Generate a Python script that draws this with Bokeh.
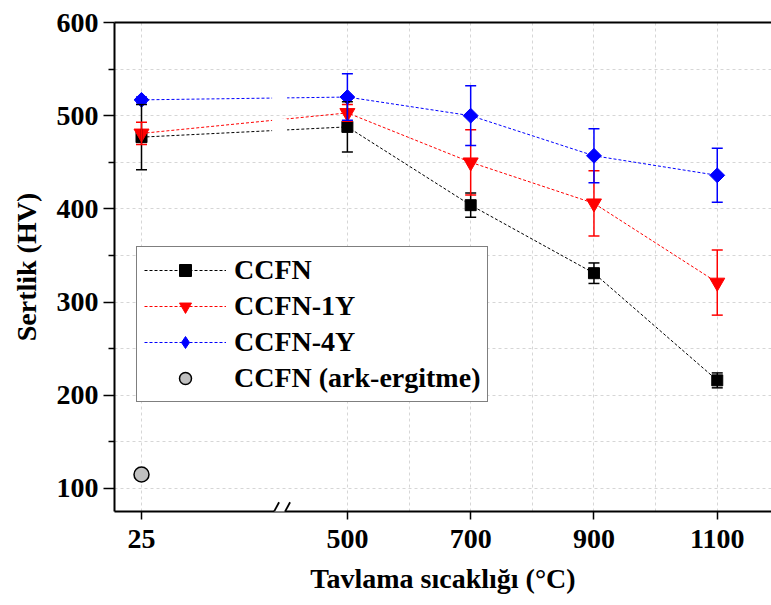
import math
from bokeh.plotting import figure
from bokeh.models import (ColumnDataSource, Whisker, TeeHead, FixedTicker, Legend,
                          LegendItem, Label, Range1d, LinearAxis, Arrow, BoxAnnotation)
from bokeh.embed import file_html
from bokeh.resources import INLINE

# ---- data ----
temps = [25, 500, 700, 900, 1100]
ccfn = [477, 488, 404, 331, 216]
ccfn_err = [35, 27, 13, 11, 8]
ccfn_1y = [481, 503, 450, 406, 321]
ccfn_1y_err = [12, 9, 35, 35, 35]
ccfn_4y = [517, 520, 500, 457, 436]
ccfn_4y_err = [3, 25, 32, 29, 29]
arc_temp = [25]
arc_val = [115]
series_names = ["CCFN", "CCFN-1Y", "CCFN-4Y", "CCFN (ark-ergitme)"]
tick_labels = ["25", "500", "700", "900", "1100"]

# ---- broken x-axis layout: 25 °C is drawn at virtual position 166 ----
BREAK_MAP = {25: 166}
BREAK_AT = 390
def xpos(t):
    return BREAK_MAP.get(t, t)

FONT = "Liberation Serif"
X0, X1 = 122.2, 1188
Y0, Y1 = 75.3, 600
W, H = 771, 605
BL, BT, BB = 114, 22, 94
PPX = (W - BL) / (X1 - X0)
PPY = (H - BT - BB) / (Y1 - Y0)

p = figure(width=W, height=H, output_backend="svg", toolbar_location=None,
           x_range=Range1d(X0, X1), y_range=Range1d(Y0, Y1),
           min_border_left=BL, min_border_right=0, min_border_top=BT,
           min_border_bottom=BB)
p.outline_line_color = None
p.background_fill_color = "white"
p.border_fill_color = "white"

xa, ya = p.below[0], p.left[0]
xs = [xpos(t) for t in temps]

xa.ticker = FixedTicker(ticks=xs, minor_ticks=[600, 800, 1000, 1200])
ya.ticker = FixedTicker(ticks=[100, 200, 300, 400, 500, 600],
                        minor_ticks=[50, 150, 250, 350, 450, 550])
xa.major_label_overrides = {xpos(t): lab for t, lab in zip(temps, tick_labels)}

top = LinearAxis(ticker=FixedTicker(ticks=[], minor_ticks=[]), axis_line_width=2,
                 major_tick_line_color=None, minor_tick_line_color=None,
                 major_tick_out=0, minor_tick_out=0, major_label_standoff=0)
p.add_layout(top, "above")

for g in (p.xgrid, p.ygrid):
    g.grid_line_color = "#d6d6d6"
    g.grid_line_dash = "3 3"
    g.grid_line_width = 1
    g.minor_grid_line_color = "#d6d6d6"
    g.minor_grid_line_dash = "3 3"
    g.minor_grid_line_width = 1

for ax in (xa, ya):
    ax.axis_line_width = 2
    ax.major_tick_line_width = 1.5
    ax.minor_tick_line_width = 1.5
    ax.major_tick_in = 0
    ax.minor_tick_in = 0
    ax.major_label_text_font = FONT
    ax.major_label_text_font_style = "bold"
    ax.major_label_text_font_size = "28px"
    ax.major_label_text_color = "black"
    ax.axis_label_text_font = FONT
    ax.axis_label_text_font_style = "bold"
    ax.axis_label_text_font_size = "28px"
    ax.axis_label_text_color = "black"

xa.major_tick_out = 8
xa.minor_tick_line_color = None
xa.major_label_standoff = 10
xa.axis_label = "Tavlama sıcaklığı (°C)"
xa.axis_label_standoff = 12
ya.major_tick_out = 11
ya.minor_tick_out = 6
ya.major_label_standoff = 5
ya.axis_label = "Sertlik (HV)"
ya.axis_label_standoff = 12

colors = ["black", "#ff0000", "#0000ff"]
vals = [ccfn, ccfn_1y, ccfn_4y]
errs = [ccfn_err, ccfn_1y_err, ccfn_4y_err]
markers = [("square", 11, 0, None), ("inverted_triangle", 15, 0, None),
           ("square", 10.5, math.pi / 4, "diamond")]

items = []
for name, c, v, e, (mk, sz, ang, leg_mk) in zip(series_names, colors, vals, errs, markers):
    src = ColumnDataSource(dict(x=xs, y=v,
                                upper=[a + b for a, b in zip(v, e)],
                                lower=[a - b for a, b in zip(v, e)]))
    w = Whisker(base="x", upper="upper", lower="lower", source=src,
                line_color=c, line_width=1.5, level="glyph",
                upper_head=TeeHead(size=11, line_color=c, line_width=1.5),
                lower_head=TeeHead(size=11, line_color=c, line_width=1.5))
    p.add_layout(w)
    ln = p.line("x", "y", source=src, line_color=c, line_width=1, line_dash="3 2")
    sc = p.scatter("x", "y", source=src, marker=mk, size=sz, angle=ang,
                   fill_color=c, line_color=c)
    leg = [ln, sc]
    if leg_mk:
        # legend-only diamond glyph (NaN position: nothing drawn in the plot)
        nan_src = ColumnDataSource(dict(x=[math.nan], y=[math.nan]))
        leg = [ln, p.scatter("x", "y", source=nan_src, marker=leg_mk, size=sz,
                             fill_color=c, line_color=c)]
    items.append(LegendItem(label=name, renderers=leg))

arc_src = ColumnDataSource(dict(x=[xpos(t) for t in arc_temp], y=arc_val))
arc = p.scatter("x", "y", source=arc_src, marker="circle", size=15,
                fill_color="#c0c0c0", line_color="black", line_width=1.5)
items.append(LegendItem(label=series_names[3], renderers=[arc]))

# gap of the data lines at the axis break (kept clear of the 500 grid line)
gap = 7.5 / PPX
for b, t in ((470, 497), (503, 530)):
    p.add_layout(BoxAnnotation(left=BREAK_AT - gap, right=BREAK_AT + gap, bottom=b, top=t,
                               fill_color="white", fill_alpha=1, line_color=None,
                               level="glyph"))

legend = Legend(items=items, location=(22, 109), padding=7, spacing=4,
                glyph_width=82, glyph_height=30, label_height=30,
                label_standoff=8, border_line_color="black", border_line_width=1.5,
                background_fill_color="white", background_fill_alpha=1,
                label_text_font=FONT, label_text_font_style="bold",
                label_text_font_size="28px", label_text_color="black")
p.add_layout(legend, "center")

# axis break marker "//"
p.add_layout(Label(x=BREAK_AT, y=Y0, text="\u2003", text_align="center",
                   text_baseline="middle", text_font=FONT, text_font_size="11px",
                   background_fill_color="white", level="overlay"))
for off in (-5.5, 5.5):
    p.add_layout(Arrow(start=None, end=None,
                       x_start=BREAK_AT + (off - 5) / PPX, y_start=Y0 - 9.2 / PPY,
                       x_end=BREAK_AT + (off + 5) / PPX, y_end=Y0 + 9.2 / PPY,
                       line_color="black", line_width=1.8, level="overlay"))

open("out.html", "w").write(file_html(p, INLINE))
